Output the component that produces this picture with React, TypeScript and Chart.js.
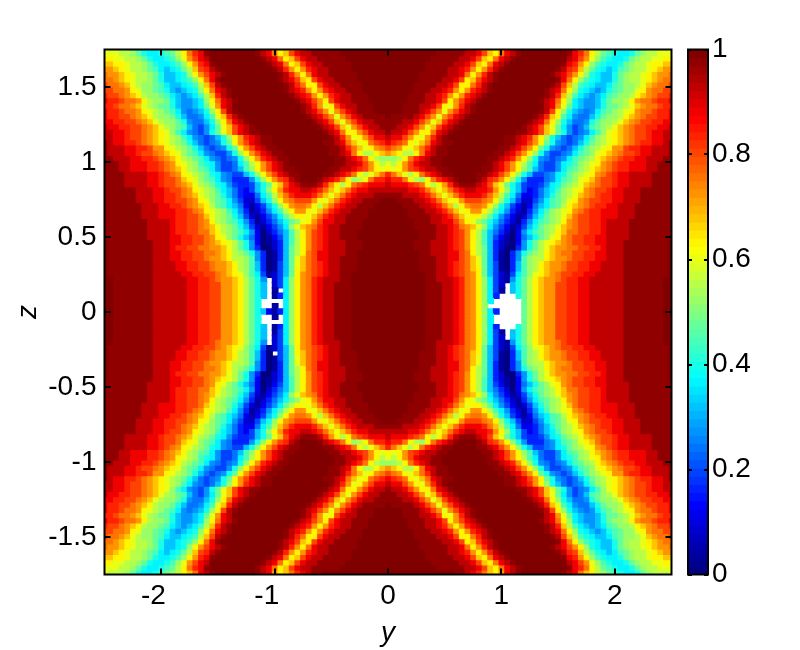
import React, { useEffect, useRef } from "react";
import { Chart, registerables } from "chart.js";

Chart.register(...registerables);

// Upper-right quadrant of the map. Row n is z = n * zStep, column m is y = m * yStep.
// Each letter stands for the value at the same place in letterValues. The map reads as mirror-symmetric in both axes.
const letterValues = [
  0, 0.04, 0.08, 0.12, 0.16, 0.2, 0.24, 0.28, 0.32, 0.36, 0.4, 0.44, 0.48,
  0.52, 0.56, 0.6, 0.64, 0.68, 0.72, 0.76, 0.8, 0.84, 0.88, 0.93, 0.97, 1,
];
const quadrantRows: string[] = [
  "zzzzzzzyyy xxwvtsqnje bdikmoqrss uuvvwwxxxx xxyyyyyyyzz",
  "zzzzzzzyyy xxwvtsqnje bdikmoqrss uuvvwwxxxx xxyyyyyyyzz",
  "zzzzzzzyyy xxwvtsqnje bdikmoqrss uuvvwwxxxx xxyyyyyyyzz",
  "zzzzzzzyyy xxwvtsqnje bdikmoqrss uuvvwwxxxx xxyyyyyyyzz",
  "zzzzzzzyyy xxwvtsqnjf bcikmoqrss uuvvwwxxxx xxyyyyyyyzz",
  "zzzzzzzyyy xxwvtsqnjf ccikmoqrss uuvvwwxxxx xxyyyyyyyzz",
  "zzzzzzzyyx xxwvtsqnjf cbhkmoqrss tuvvwwxxxx xxyyyyyyyzz",
  "zzzzzzzyyx xwvutsqmif cbfjlnpqrs tuuvvwwxxx xxyyyyyyyyz",
  "zzzzzzyyyx xwvutrqmif baeilnoqrs stuuvvwwxx xxyyyyyyyyz",
  "zzzzzzyyyx xwvutrpmif baeilnoqrs stuuvvwwxx xxyyyyyyyyz",
  "zzzzzzyyyx xwwutrpmie baehlnooqr sstuuvvwwx xxyyyyyyyyz",
  "zzzzzzyyxx xwwutqomie baehkmnoqr sttuuvvwwx xxyyyyyyyyz",
  "zzzzzyyyxx xwvusqomie caaehkmopr ssttuuvvwx xxyyyyyyyyz",
  "zzzzzyyyxx xwvusqolie cbadhkmopq rstuuvvwwx xxyyyyyyyyz",
  "zzzzzzyyyx xwvusqolif dbadgikmnp qstuuvvwwx xxxyyyyyyyy",
  "zzzzzzyyyx xwvusqolig ecadhjlmno qrttuuvvwx xxxyyyyyyyy",
  "zzzzzyyyyx xwvtsrpnjh fdbcfikmno prstuuvvwx xxxyyyyyyyy",
  "zzzzzyyyxx wwusqpnmki gecbehjlmn oqstuuvvwx xxxyyyyyyyy",
  "zzzzyyyyxx wvtrpqqomj hfdbcfikmn oprtuuvvww wxxxyyyyyyy",
  "zzzzyyyxxw vtrpqssqol jhecbehjln opqstuvvww wxxxyyyyyyy",
  "zzzyyyxxwv troqsttsqn kifdbdgijl moqrstuvvw wxxxyyyyyyy",
  "zzyyyxxwvt rpqsuuutsq nkifccfhjl mnpqstuuvv wwxxxyyyyyy",
  "yyyxxxwvtr prtvwwwvtr oljgddegik mnoprstuvv wwxxxyyyyyy",
  "xxxxwwvtrp rtvwxxwwvs qnkifdegij lnopqstuuv wwxxxyyyyyy",
  "xwwwvutqoq svxyyyxwur pmkifeefhj kmnoprstuu vwwxxxxyyyy",
  "wvvtqonqtv wxyzzzyxvu sqnkheeegh jlmnpqrtuu vwwxxxxyyyy",
  "vtrpoqtvwx yyzzzzyyxw usqnkiffgh jkmnopqstu vwwxxxxyyyy",
  "qpqsuvwxxy yzzzzzzyyx wusqnligff hjlmnoqrst uvvwwwxxyyy",
  "poqsuwxxyy zzzzzzzzyx wusqoljgff hjklnopqst uvvwwwxxyyy",
  "nnoqtvwxyy zzzzzzzzyy xwvsqnkhgf ghjlmnoqrs tuvvwwxxxyy",
  "srqooqtwxy yzzzzzzzzy yxwusqnkhf fghjlmnpqr stuuvwwxxxy",
  "utsqprtvxy yzzzzzzzzz yyxwusqmkh gfgikmnopq ssuvvwwxxxy",
  "wvutqprtwx yyzzzzzzzz zyyxwusqmk hgfgikmnop qrstuvvwwxy",
  "xwwusqpsvx yzzzzzzzzz zyyxwvsqnk igfghjlnop qrstuuvwwxx",
  "yxxwusqqtw xyzzzzzzzz zzzyyxwurp mkhfghjlnp qrstuuvwwxx",
  "yyxxwuspru wxyzzzzzzz zzzzyxwurp mjhfgilmno prstuuvvwwx",
  "yyyxxwuspr uwxyzzzzzz zzzzzyxwtq nkigghkmnn oprstuuvvww",
  "zyyyyxwusp suwxyzzzzz zzzzzzyxvr pljhggikmn noqrstuuvvw",
  "zzzyyyxwus psuwxyzzzz zzzzzzzyxu qnkihghjlm nopqsttuvvw",
  "zzzyyyxxwu qpsvxyzzzz zzzzzzzzxw spmjihhikm mnoprsttuvv",
  "zzzzyyyxxw uqsuwxyzzz zzzzzzzyxw tqnjihhikm nnoqsttuvvw",
  "zzzzyyyxxw vsqsvwxyzz zzzzzzzzyx vroljihijl mnnoqrstuuv",
  "zzzzzyyyxx wvsqsvwxyz zzzzzzzzyx wtqnkjihik lmnnpqsttuu",
  "zzzzzyyyyx xwuqqtvxyz zzzzzzzzzy xurolkjiij lmnnoprsttu",
  "zzzzzzyyyy xxwuqruwxy zzzzzzzzzz ywtqnlkjii kmnoopqrstt",
  "zzzzzzyyyy yxxwtqsvxy zzzzzzzzzy xwusqnkjii kmnoopqrsst",
  "zzzzzzzyyy yxxwvsqsvx yzzzzzzzzz yxvuromkji jlmnoopqrss",
  "zzzzzzzyyy yyxxwurqtw xyzzzzzzzz zywvsqnlkj jkmnoopqqrr",
  "zzzzzzzzyy yyyxxwurqt wxyzzzzzzz zzxwuspnlk jjkmnooppqq",
  "zzzzzzzzzy yyyyxxwurq twxyzzzzzz zzywvtqoml kjjkmnooppp",
  "zzzzzzzzzz zzyyxwvtrq swxyzzzzzz zyxwtrqonm lkjjkmnooop",
];

// Cells with no value, drawn white: [row, column index away from y = 0]
const blankRight: [number, number][] = [
  [5, 21], [4, 21], [3, 20], [3, 21], [3, 22],
  [2, 19], [2, 20], [2, 21], [2, 22], [2, 23],
  [1, 18], [1, 19], [1, 20], [1, 21], [1, 22], [1, 23],
  [0, 20], [0, 21], [0, 22], [0, 23],
  [-1, 19], [-1, 20], [-1, 21], [-1, 22], [-1, 23],
  [-2, 19], [-2, 20], [-2, 21], [-2, 22], [-2, 23],
  [-3, 20], [-3, 21], [-3, 22], [-4, 21], [-5, 21],
];
const blankLeft: [number, number][] = [
  [6, 21], [5, 21], [4, 21], [4, 19], [3, 21],
  [2, 19], [2, 20], [2, 21], [2, 22],
  [1, 19], [1, 21], [1, 22],
  [-1, 19], [-1, 21], [-1, 22],
  [-2, 19], [-2, 20], [-2, 21], [-2, 22],
  [-3, 21], [-4, 21], [-5, 21], [-6, 21], [-8, 20],
];

const yStep = 0.05;
const zStep = 0.035;
const xTickValues = [-2, -1, 0, 1, 2];
const zTickValues = [-1.5, -1, -0.5, 0, 0.5, 1, 1.5];
const barTickValues = [0, 0.2, 0.4, 0.6, 0.8, 1];
const LEVELS = 64;
const FONT = "'Liberation Sans', Arial, sans-serif";
const FONT_SIZE = 28;

const clamp = (v: number) => Math.max(0, Math.min(1, v));
function jet(v: number): string {
  const t = Math.min(LEVELS - 1, Math.floor(v * LEVELS)) / (LEVELS - 1);
  const r = clamp(1.5 - Math.abs(4 * t - 3));
  const g = clamp(1.5 - Math.abs(4 * t - 2));
  const b = clamp(1.5 - Math.abs(4 * t - 1));
  return `rgb(${Math.round(r * 255)},${Math.round(g * 255)},${Math.round(b * 255)})`;
}

const cleanRows = quadrantRows.map((r) => r.replace(/ /g, ""));
const blankSet = new Set<string>([
  ...blankRight.map(([r, c]) => `${r}:${c}`),
  ...blankLeft.map(([r, c]) => `${r}:${-c}`),
]);

// Each cell overlaps the next by about a pixel so antialiased edges leave no seams;
// the small offsets keep the visible part of the cell centred on its grid position.
function buildDatasets() {
  const sets: any[] = [];
  for (let r = -50; r <= 50; r++) {
    const row = cleanRows[Math.abs(r)];
    const data: any[] = [];
    const colors: string[] = [];
    for (let c = -50; c <= 50; c++) {
      if (blankSet.has(`${r}:${c}`)) continue;
      const code = row.charCodeAt(Math.abs(c)) - 97;
      data.push({ x: (c + 0.1) * yStep, y: [(r - 0.5) * zStep, (r + 0.7) * zStep] });
      colors.push(jet(letterValues[code]));
    }
    sets.push({
      data,
      backgroundColor: colors,
      borderWidth: 0,
      barPercentage: 1.2,
      categoryPercentage: 1,
      grouped: false,
    });
  }
  return sets;
}

function frameAndTicks(sideTicksOnly: boolean) {
  return {
    id: "frameAndTicks",
    afterDatasetsDraw(chart: any) {
      const { ctx, chartArea: a, scales } = chart;
      ctx.save();
      ctx.strokeStyle = "#000";
      ctx.lineWidth = 2;
      ctx.strokeRect(a.left, a.top, a.right - a.left, a.bottom - a.top);
      const len = sideTicksOnly ? 4 : 6;
      ctx.beginPath();
      if (!sideTicksOnly) {
        for (const t of scales.x.ticks) {
          const p = Math.round(scales.x.getPixelForValue(t.value));
          ctx.moveTo(p, a.bottom);
          ctx.lineTo(p, a.bottom - len);
          ctx.moveTo(p, a.top);
          ctx.lineTo(p, a.top + len);
        }
      }
      for (const t of scales.y.ticks) {
        const p = Math.round(scales.y.getPixelForValue(t.value));
        ctx.moveTo(a.left, p);
        ctx.lineTo(a.left + len, p);
        ctx.moveTo(a.right, p);
        ctx.lineTo(a.right - len, p);
      }
      ctx.stroke();
      ctx.restore();
    },
  };
}

export default function App() {
  const mainRef = useRef<HTMLCanvasElement>(null);
  const barRef = useRef<HTMLCanvasElement>(null);

  useEffect(() => {
    const font = { family: FONT, size: FONT_SIZE };
    const main = new Chart(mainRef.current as HTMLCanvasElement, {
      type: "bar",
      data: { datasets: buildDatasets() },
      plugins: [frameAndTicks(false)],
      options: {
        animation: false,
        responsive: false,
        parsing: { xAxisKey: "x", yAxisKey: "y" },
        layout: { padding: { left: 0, top: 49.5, right: 128.5, bottom: 0 } },
        plugins: { legend: { display: false }, tooltip: { enabled: false } },
        scales: {
          x: {
            type: "linear",
            min: -2.5,
            max: 2.5,
            offset: false,
            grid: { display: false, drawTicks: false },
            border: { display: false },
            afterBuildTicks: (s: any) => {
              s.ticks = xTickValues.map((value) => ({ value }));
            },
            afterFit: (s: any) => {
              s.height = 75.5;
            },
            ticks: {
              color: "#000",
              font,
              padding: 5,
              maxRotation: 0,
              autoSkip: false,
              callback: (v: any) => (v < 0 ? `${v}  ` : String(v)),
            },
            title: {
              display: true,
              text: "y",
              color: "#000",
              font: { family: FONT, size: FONT_SIZE, style: "italic" },
              padding: { top: 0, bottom: 0 },
            },
          },
          y: {
            type: "linear",
            min: -1.75,
            max: 1.75,
            grid: { display: false, drawTicks: false },
            border: { display: false },
            afterBuildTicks: (s: any) => {
              s.ticks = zTickValues.map((value) => ({ value }));
            },
            afterFit: (s: any) => {
              s.width = 104.5;
            },
            ticks: {
              color: "#000",
              font,
              padding: 8,
              autoSkip: false,
              callback: (v: any) => String(v),
            },
            title: {
              display: true,
              text: "z",
              color: "#000",
              font: { family: FONT, size: FONT_SIZE, style: "italic" },
              padding: { top: 11, bottom: 0 },
            },
          },
        },
      } as any,
    });

    const levels = Array.from({ length: LEVELS }, (_, i) => i);
    const bar = new Chart(barRef.current as HTMLCanvasElement, {
      type: "bar",
      data: {
        datasets: [
          {
            data: levels.map((i) => ({ y: (i + 0.5) / LEVELS, x: [0, 1] })),
            backgroundColor: levels.map((i) => jet((i + 0.5) / LEVELS)),
            borderWidth: 0,
            barPercentage: 1.15,
            categoryPercentage: 1,
          },
        ],
      },
      plugins: [frameAndTicks(true)],
      options: {
        animation: false,
        responsive: false,
        indexAxis: "y",
        layout: { padding: { left: 688, top: 49.5, right: 0, bottom: 75.5 } },
        plugins: { legend: { display: false }, tooltip: { enabled: false } },
        scales: {
          x: { type: "linear", min: 0, max: 1, display: false, offset: false },
          y: {
            type: "linear",
            position: "right",
            min: 0,
            max: 1,
            offset: false,
            grid: { display: false, drawTicks: false },
            border: { display: false },
            afterBuildTicks: (s: any) => {
              s.ticks = barTickValues.map((value) => ({ value }));
            },
            afterFit: (s: any) => {
              s.width = 92;
            },
            ticks: {
              color: "#000",
              font,
              padding: 4,
              autoSkip: false,
              callback: (v: any) => String(v),
            },
          },
        },
      } as any,
    });

    return () => {
      main.destroy();
      bar.destroy();
    };
  }, []);

  const style: React.CSSProperties = { position: "fixed", left: 0, top: 0 };
  return (
    <div style={{ width: 800, height: 650, background: "#fff" }}>
      <canvas ref={mainRef} width={800} height={650} style={style} />
      <canvas ref={barRef} width={800} height={650} style={style} />
    </div>
  );
}
